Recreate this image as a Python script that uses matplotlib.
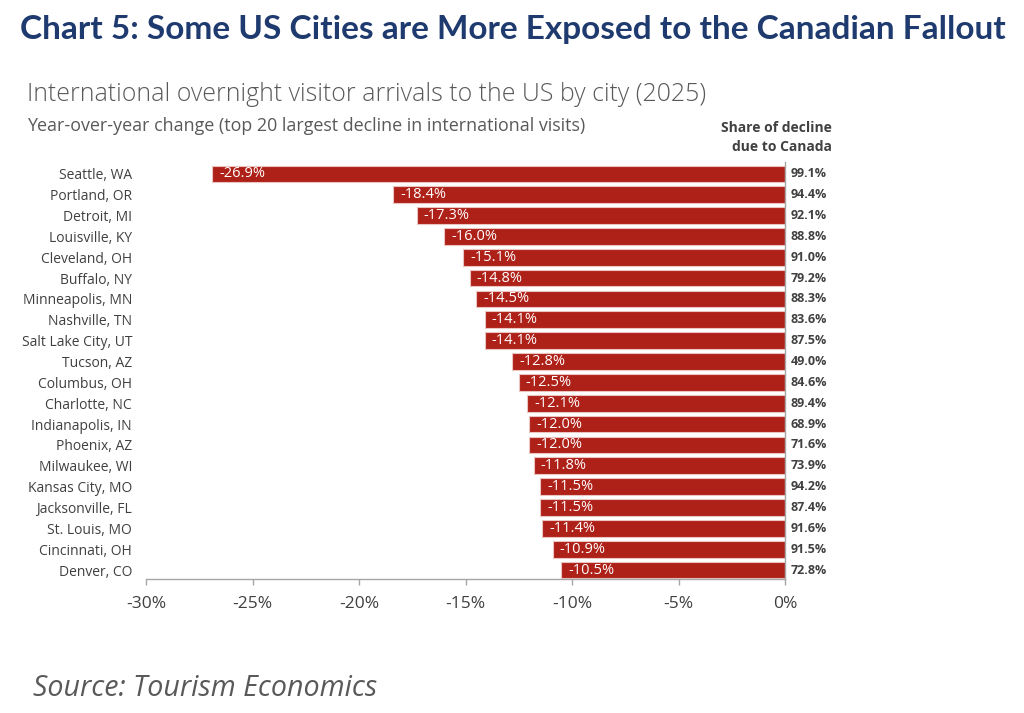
import matplotlib
matplotlib.use("Agg")
import matplotlib.pyplot as plt
from matplotlib.ticker import FuncFormatter

cities = ["Seattle, WA", "Portland, OR", "Detroit, MI", "Louisville, KY", "Cleveland, OH",
          "Buffalo, NY", "Minneapolis, MN", "Nashville, TN", "Salt Lake City, UT", "Tucson, AZ",
          "Columbus, OH", "Charlotte, NC", "Indianapolis, IN", "Phoenix, AZ", "Milwaukee, WI",
          "Kansas City, MO", "Jacksonville, FL", "St. Louis, MO", "Cincinnati, OH", "Denver, CO"]
yoy_change = [-26.9, -18.4, -17.3, -16.0, -15.1, -14.8, -14.5, -14.1, -14.1, -12.8,
              -12.5, -12.1, -12.0, -12.0, -11.8, -11.5, -11.5, -11.4, -10.9, -10.5]
canada_share = [99.1, 94.4, 92.1, 88.8, 91.0, 79.2, 88.3, 83.6, 87.5, 49.0,
                84.6, 89.4, 68.9, 71.6, 73.9, 94.2, 87.4, 91.6, 91.5, 72.8]
x_ticks = [-30, -25, -20, -15, -10, -5, 0]

BODY = ["Open Sans", "DejaVu Sans"]
TITLE = ["Lato", "DejaVu Sans"]
plt.rcParams['font.family'] = BODY

W, H = 1024, 713
fig = plt.figure(figsize=(W / 100, H / 100), dpi=100)
ax = fig.add_axes([146 / W, 1 - 579 / H, (785 - 146) / W, (579 - 162) / H])

ypos = list(range(len(cities)))
ax.barh(ypos, yoy_change, height=0.80, color="#AE2118",
        edgecolor="#EBC4C0", linewidth=0.8)

ax.set_xlim(-30, 0)
ax.set_ylim(19.43, -0.57)
ax.set_xticks(x_ticks)
ax.xaxis.set_major_formatter(FuncFormatter(lambda v, p: f"{v:.0f}%"))
ax.set_yticks(ypos)
ax.set_yticklabels(cities)

ax.tick_params(axis='y', length=0, pad=10, labelsize=10, labelcolor="#404040")
ax.tick_params(axis='x', length=4, width=1, color="#A6A6A6", pad=8,
               labelsize=12.5, labelcolor="#404040")

for s in ["left", "top"]:
    ax.spines[s].set_visible(False)
for s in ["bottom", "right"]:
    ax.spines[s].set_color("#A6A6A6")
    ax.spines[s].set_linewidth(1)

for y, v, sh in zip(ypos, yoy_change, canada_share):
    ax.annotate(f"{v:.1f}%", xy=(v, y), xytext=(5, 0), textcoords="offset points",
                ha="left", va="center", color="white", fontsize=10.5)
    ax.annotate(f"{sh:.1f}%", xy=(0, y), xytext=(4.3, 0), textcoords="offset points",
                ha="left", va="center", color="#404040", fontsize=9, fontweight="bold",
                annotation_clip=False)

fig.text(832 / W, 1 - 128 / H, "Share of decline", ha="right", va="center",
         fontsize=10, fontweight="bold", color="#404040")
fig.text(832 / W, 1 - 147 / H, "due to Canada", ha="right", va="center",
         fontsize=10, fontweight="bold", color="#404040")

fig.text(20 / W, 1 - 39 / H, "Chart 5: Some US Cities are More Exposed to the Canadian Fallout",
         ha="left", va="baseline", fontsize=24, fontweight="bold", color="#1E3A6E",
         family=TITLE)
fig.text(27 / W, 1 - 101 / H, "International overnight visitor arrivals to the US by city (2025)",
         ha="left", va="baseline", fontsize=17.9, fontweight="light", color="#595959")
fig.text(27 / W, 1 - 131 / H, "Year-over-year change (top 20 largest decline in international visits)",
         ha="left", va="baseline", fontsize=12.9, color="#595959")
fig.text(33 / W, 1 - 696 / H, "Source: Tourism Economics",
         ha="left", va="baseline", fontsize=20.6, style="italic", color="#595959")

fig.savefig("out.png", dpi=100, facecolor="white")
